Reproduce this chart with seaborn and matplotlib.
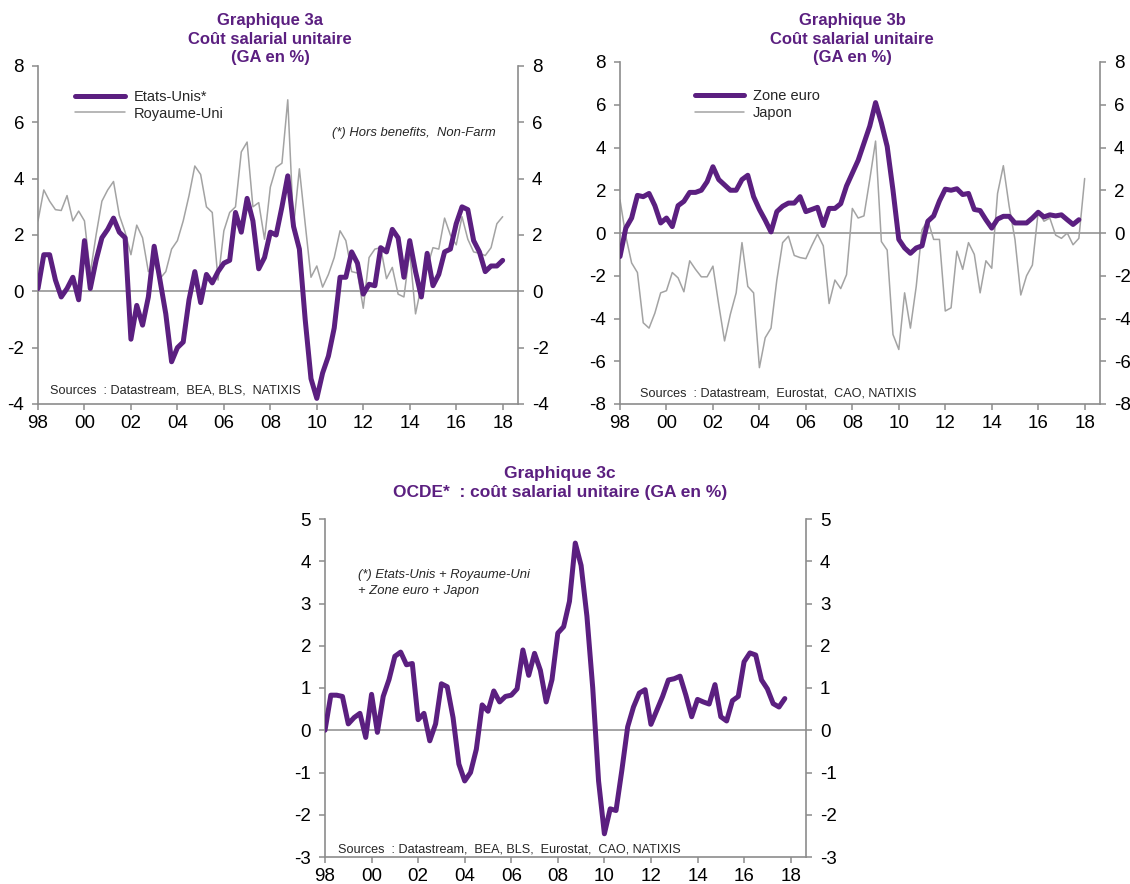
"""
Coût salarial unitaire (GA en %) -- Graphiques 3a, 3b, 3c
"""

import matplotlib.pyplot as plt
import numpy as np
import pandas as pd
import seaborn as sns

# ---------------------------------------------------------------------------
# Data (quarterly, 1998Q1 onwards)
# ---------------------------------------------------------------------------
etats_unis = [
    0.1, 1.3, 1.3, 0.4, -0.2, 0.1, 0.5, -0.3, 1.8, 0.1, 1.1, 1.9,
    2.2, 2.6, 2.1, 1.9, -1.7, -0.5, -1.2, -0.2, 1.6, 0.4, -0.8, -2.5,
    -2.0, -1.8, -0.3, 0.7, -0.4, 0.6, 0.3, 0.7, 1.0, 1.1, 2.8, 2.1,
    3.3, 2.5, 0.8, 1.2, 2.1, 2.0, 3.0, 4.1, 2.3, 1.5, -1.0, -3.1,
    -3.8, -2.9, -2.3, -1.3, 0.5, 0.5, 1.4, 1.0, -0.1, 0.25, 0.2, 1.55,
    1.4, 2.2, 1.9, 0.5, 1.8, 0.7, -0.2, 1.35, 0.2, 0.6, 1.4, 1.5,
    2.4, 3.0, 2.9, 1.8, 1.4, 0.7, 0.9, 0.9, 1.1,
]
royaume_uni = [
    2.5, 3.6, 3.2, 2.9, 2.87, 3.4, 2.5, 2.85, 2.5, 0.65, 2.0, 3.2,
    3.6, 3.9, 2.7, 2.1, 1.3, 2.35, 1.9, 0.7, 1.0, 0.45, 0.7, 1.5,
    1.8, 2.5, 3.4, 4.45, 4.15, 3.0, 2.8, 0.4, 2.15, 2.8, 3.0, 4.95,
    5.3, 3.0, 3.15, 1.85, 3.7, 4.4, 4.55, 6.8, 2.3, 4.35, 2.4, 0.5,
    0.9, 0.15, 0.6, 1.2, 2.15, 1.8, 0.7, 0.65, -0.6, 1.2, 1.5, 1.55,
    0.45, 0.85, -0.1, -0.2, 1.4, -0.8, 0.2, 0.85, 1.55, 1.5, 2.6, 2.0,
    1.65, 2.65, 1.85, 1.4, 1.35, 1.27, 1.55, 2.4, 2.65,
]
zone_euro = [
    -1.1, 0.23, 0.7, 1.76, 1.7, 1.85, 1.28, 0.47, 0.7, 0.3, 1.28, 1.48,
    1.9, 1.9, 2.0, 2.4, 3.1, 2.5, 2.25, 2.0, 2.0, 2.5, 2.7, 1.7,
    1.1, 0.6, 0.05, 1.0, 1.25, 1.4, 1.4, 1.7, 1.0, 1.1, 1.2, 0.35,
    1.15, 1.15, 1.37, 2.2, 2.8, 3.4, 4.2, 5.0, 6.1, 5.15, 4.05, 2.0,
    -0.3, -0.7, -0.95, -0.7, -0.6, 0.55, 0.8, 1.5, 2.05, 2.0, 2.07, 1.8,
    1.85, 1.1, 1.05, 0.62, 0.23, 0.65, 0.78, 0.78, 0.47, 0.47, 0.47, 0.7,
    0.97, 0.75, 0.85, 0.8, 0.85, 0.62, 0.4, 0.62,
]
japon = [
    1.55, -0.15, -1.4, -1.85, -4.2, -4.45, -3.75, -2.8, -2.7, -1.85, -2.1, -2.75,
    -1.3, -1.7, -2.05, -2.05, -1.55, -3.35, -5.05, -3.8, -2.8, -0.45, -2.5, -2.8,
    -6.3, -4.9, -4.45, -2.2, -0.45, -0.15, -1.05, -1.15, -1.2, -0.6, -0.05, -0.6,
    -3.3, -2.2, -2.6, -1.95, 1.15, 0.7, 0.8, 2.5, 4.3, -0.4, -0.8, -4.75,
    -5.45, -2.8, -4.45, -2.5, 0.15, 0.6, -0.3, -0.3, -3.65, -3.5, -0.85, -1.7,
    -0.45, -1.0, -2.8, -1.3, -1.65, 1.85, 3.15, 1.25, -0.3, -2.9, -2.0, -1.5,
    1.0, 0.55, 0.7, -0.1, -0.25, 0.0, -0.55, -0.25, 2.55,
]
ocde = [
    0.0, 0.83, 0.83, 0.8, 0.15, 0.3, 0.4, -0.17, 0.85, -0.05, 0.8, 1.2,
    1.75, 1.85, 1.55, 1.58, 0.25, 0.4, -0.25, 0.15, 1.1, 1.03, 0.3, -0.8,
    -1.2, -1.0, -0.45, 0.6, 0.45, 0.93, 0.67, 0.8, 0.83, 0.98, 1.9, 1.3,
    1.82, 1.42, 0.67, 1.2, 2.3, 2.45, 3.05, 4.43, 3.9, 2.7, 1.0, -1.2,
    -2.45, -1.86, -1.9, -0.95, 0.08, 0.55, 0.88, 0.96, 0.14, 0.47, 0.8, 1.19,
    1.22, 1.28, 0.83, 0.32, 0.73, 0.67, 0.62, 1.08, 0.32, 0.22, 0.7, 0.8,
    1.62, 1.83, 1.78, 1.19, 0.98, 0.63, 0.55, 0.75,
]
year_ticks = list(range(1998, 2019, 2))

PURPLE = "#5b1f80"
GREY_LINE = "#a3a3a3"
AXIS_GREY = "#8c8c8c"


def quarters(n):
    d = pd.date_range("1998-01-01", periods=n, freq="QS")
    return d.year + (d.quarter - 1) / 4.0


def make_frame(series: dict) -> pd.DataFrame:
    frames = []
    for name, vals in series.items():
        frames.append(pd.DataFrame({"date": quarters(len(vals)), "val": vals, "serie": name}))
    return pd.concat(frames, ignore_index=True)


def style_axis(ax, ylim, yticks):
    ax.set_xlim(1998, 2018.66)
    ax.set_ylim(*ylim)
    ax.set_yticks(yticks)
    ax.set_yticklabels([f"{t:g}" for t in yticks])
    ax.set_xticks(year_ticks)
    ax.set_xticklabels([f"{y % 100:02d}" for y in year_ticks])
    ax.axhline(0, color=AXIS_GREY, lw=1.1, zorder=1)
    for s in ["left", "right", "bottom"]:
        ax.spines[s].set_color(AXIS_GREY)
        ax.spines[s].set_linewidth(1.2)
        ax.spines[s].set_visible(True)
    ax.spines["top"].set_visible(False)
    ax.tick_params(
        axis="both", direction="out", length=4, width=1.1, color=AXIS_GREY,
        labelsize=13.5, labelcolor="black",
    )
    ax.tick_params(axis="y", left=True, right=True, labelleft=True, labelright=True, pad=6)
    ax.tick_params(axis="x", bottom=True, pad=4)
    ax.set_xlabel("")
    ax.set_ylabel("")
    ax.grid(False)


def draw_pair(ax, df, names, legend_anchor):
    sns.lineplot(
        data=df, x="date", y="val", hue="serie", size="serie",
        hue_order=names, size_order=names,
        palette=[PURPLE, GREY_LINE], sizes=[3.6, 1.1], ax=ax, legend=True,
    )
    # grey line under the purple one
    lines = ax.get_lines()
    if len(lines) >= 2:
        lines[0].set_zorder(3)
        lines[1].set_zorder(2)
    handles, labels = ax.get_legend_handles_labels()
    ax.legend(
        handles, labels, loc="upper left", bbox_to_anchor=legend_anchor,
        frameon=False, fontsize=10.5, handlelength=3.4, handletextpad=0.6,
        labelspacing=0.2, borderpad=0, borderaxespad=0,
    )


sns.set_theme(style="white")
plt.rcParams["font.family"] = ["Liberation Sans", "DejaVu Sans"]

fig = plt.figure(figsize=(11.3, 8.84), dpi=100)
W, H = 1130, 884


def axes_px(left, top, right, bottom):
    return fig.add_axes([left / W, 1 - bottom / H, (right - left) / W, (bottom - top) / H])


# ---------------------------------------------------------------------------
# Graphique 3a
# ---------------------------------------------------------------------------
ax_a = axes_px(38, 66, 518, 404)
df_a = make_frame({"Etats-Unis*": etats_unis, "Royaume-Uni": royaume_uni})
draw_pair(ax_a, df_a, ["Etats-Unis*", "Royaume-Uni"], (0.077, 0.93))
style_axis(ax_a, (-4, 8), [-4, -2, 0, 2, 4, 6, 8])
ax_a.text(0.612, 0.802, "(*) Hors benefits,  Non-Farm", transform=ax_a.transAxes,
          fontsize=9.4, style="italic", va="center", ha="left")
ax_a.text(0.025, 0.04, "Sources  : Datastream,  BEA, BLS,  NATIXIS",
          transform=ax_a.transAxes, fontsize=9.1, va="center", ha="left")
fig.text(270 / W, 1 - 39 / H, "Graphique 3a\nCoût salarial unitaire\n(GA en %)",
         ha="center", va="center", color=PURPLE, fontsize=12, fontweight="bold",
         linespacing=1.27)

# ---------------------------------------------------------------------------
# Graphique 3b
# ---------------------------------------------------------------------------
ax_b = axes_px(620, 62, 1100, 404)
df_b = make_frame({"Zone euro": zone_euro, "Japon": japon})
draw_pair(ax_b, df_b, ["Zone euro", "Japon"], (0.156, 0.92))
style_axis(ax_b, (-8, 8), [-8, -6, -4, -2, 0, 2, 4, 6, 8])
ax_b.text(0.042, 0.03, "Sources  : Datastream,  Eurostat,  CAO, NATIXIS",
          transform=ax_b.transAxes, fontsize=9.1, va="center", ha="left")
fig.text(852 / W, 1 - 39 / H, "Graphique 3b\nCoût salarial unitaire\n(GA en %)",
         ha="center", va="center", color=PURPLE, fontsize=12, fontweight="bold",
         linespacing=1.27)

# ---------------------------------------------------------------------------
# Graphique 3c
# ---------------------------------------------------------------------------
ax_c = axes_px(325, 519, 806, 857)
df_c = make_frame({"OCDE": ocde})
sns.lineplot(data=df_c, x="date", y="val", color=PURPLE, lw=3.6, ax=ax_c, zorder=3)
style_axis(ax_c, (-3, 5), [-3, -2, -1, 0, 1, 2, 3, 4, 5])
ax_c.text(0.069, 0.81, "(*) Etats-Unis + Royaume-Uni\n+ Zone euro + Japon",
          transform=ax_c.transAxes, fontsize=9.4, style="italic", va="center",
          ha="left", linespacing=1.4)
ax_c.text(0.027, 0.022, "Sources  : Datastream,  BEA, BLS,  Eurostat,  CAO, NATIXIS",
          transform=ax_c.transAxes, fontsize=9.1, va="center", ha="left")
fig.text(560 / W, 1 - 483 / H, "Graphique 3c\nOCDE*  : coût salarial unitaire (GA en %)",
         ha="center", va="center", color=PURPLE, fontsize=12.5, fontweight="bold",
         linespacing=1.3)

fig.savefig("out.png", dpi=100)
